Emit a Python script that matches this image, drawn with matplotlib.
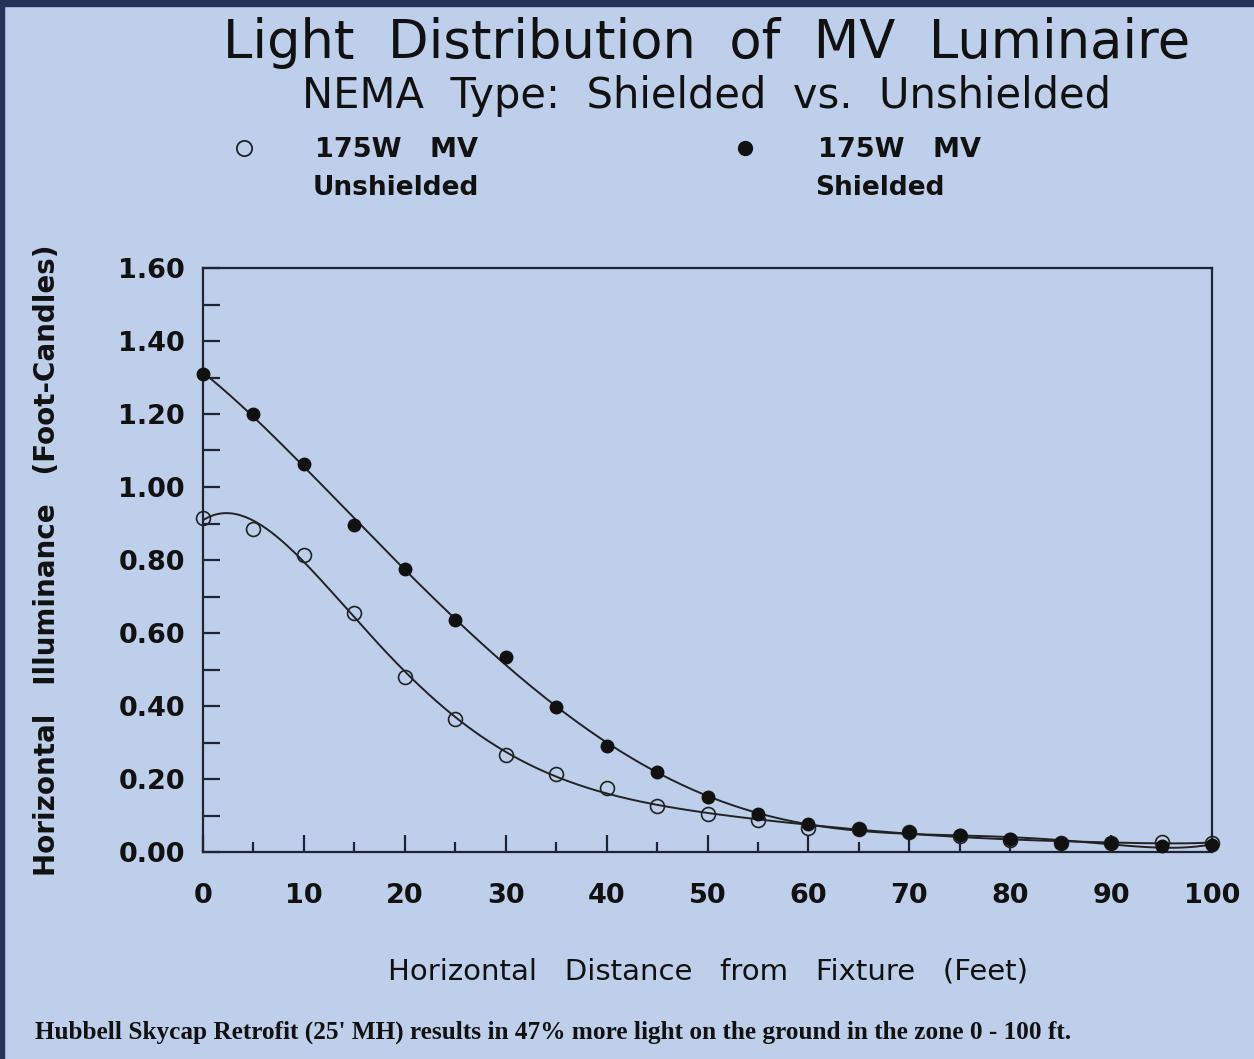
import numpy as np
import matplotlib
matplotlib.use("Agg")
import matplotlib.pyplot as plt
from matplotlib.ticker import MultipleLocator, FixedLocator
from matplotlib.patches import Rectangle

# ---- data ----
distance_ft = [0, 5, 10, 15, 20, 25, 30, 35, 40, 45, 50, 55, 60, 65, 70, 75, 80, 85, 90, 95, 100]
unshielded = [0.915, 0.885, 0.815, 0.655, 0.48, 0.365, 0.265, 0.215, 0.175, 0.125, 0.105, 0.088,
              0.066, 0.063, 0.055, 0.045, 0.034, 0.025, 0.025, 0.027, 0.025]
shielded = [1.31, 1.20, 1.062, 0.895, 0.775, 0.635, 0.535, 0.398, 0.29, 0.218, 0.15, 0.104,
            0.077, 0.063, 0.055, 0.046, 0.036, 0.025, 0.025, 0.016, 0.019]
x_ticks = [0, 10, 20, 30, 40, 50, 60, 70, 80, 90, 100]
y_ticks = [0.0, 0.2, 0.4, 0.6, 0.8, 1.0, 1.2, 1.4, 1.6]

BG = "#BDCFEB"
FONT = ["DejaVu Sans"]

fig = plt.figure(figsize=(12.54, 10.59), dpi=100, facecolor=BG)

# dark frame on top and left
fig.patches.append(Rectangle((0, 1 - 6 / 1059), 1, 6 / 1059, transform=fig.transFigure,
                             color="#22345A", zorder=0))
fig.patches.append(Rectangle((0, 0), 4 / 1254, 1, transform=fig.transFigure,
                             color="#22345A", zorder=0))

ax = fig.add_axes([203 / 1254, 1 - 852 / 1059, (1212 - 203) / 1254, (852 - 268) / 1059])
ax.set_facecolor(BG)
ax.set_xlim(0, 100)
ax.set_ylim(0, 1.6)

# fitted curves (least squares polynomial through the measured points)
xs = np.linspace(0, 100, 400)
x_arr = np.array(distance_ft, dtype=float)
for vals in (unshielded, shielded):
    coef = np.polyfit(x_arr / 100.0, np.array(vals), 7)
    ax.plot(xs, np.polyval(coef, xs / 100.0), color="#222222", lw=1.4, zorder=2)

ax.plot(distance_ft, unshielded, "o", ms=10, mfc="none", mec="#222222", mew=1.2,
        clip_on=False, zorder=3)
ax.plot(distance_ft, shielded, "o", ms=9, mfc="#111111", mec="#111111",
        clip_on=False, zorder=4)

for side in ["top", "right", "left", "bottom"]:
    ax.spines[side].set_color("#222233")
    ax.spines[side].set_linewidth(1.6)

ax.xaxis.set_major_locator(FixedLocator(x_ticks))
ax.xaxis.set_minor_locator(MultipleLocator(5))
ax.yaxis.set_major_locator(FixedLocator(y_ticks))
ax.yaxis.set_minor_locator(MultipleLocator(0.1))
ax.tick_params(axis="both", which="both", direction="in", top=False, right=False,
               color="#222233", width=1.6)
ax.tick_params(axis="x", which="major", length=12, pad=22)
ax.tick_params(axis="x", which="minor", length=7)
ax.tick_params(axis="y", which="major", length=12, pad=13)
ax.tick_params(axis="y", which="minor", length=12)
ax.set_xticklabels([str(v) for v in x_ticks], fontsize=19.5, fontweight="bold",
                   family=FONT, color="#111111")
ax.set_yticklabels([f"{v:.2f}" for v in y_ticks], fontsize=19.5, fontweight="bold",
                   family=FONT, color="#111111")

ax.set_xlabel("Horizontal   Distance   from   Fixture   (Feet)", fontsize=21, family=FONT,
              labelpad=35, color="#111111")
ax.set_ylabel("Horizontal   Illuminance   (Foot-Candles)", fontsize=20, fontweight="bold",
              family=FONT, labelpad=41, color="#111111")

# titles
fig.text(707 / 1254, 1 - 43 / 1059, "Light  Distribution  of  MV  Luminaire",
         fontsize=38, family=FONT, ha="center", va="center", color="#111111")
fig.text(707 / 1254, 1 - 96 / 1059, "NEMA  Type:  Shielded  vs.  Unshielded",
         fontsize=30, family=FONT, ha="center", va="center", color="#111111")

# legend
fig.lines.append(plt.Line2D([244 / 1254], [1 - 148 / 1059], transform=fig.transFigure,
                            marker="o", ms=11, mfc="none", mec="#222222", mew=1.3))
fig.lines.append(plt.Line2D([745 / 1254], [1 - 148 / 1059], transform=fig.transFigure,
                            marker="o", ms=10, mfc="#111111", mec="#111111"))
fig.text(315 / 1254, 1 - 150 / 1059, "175W   MV", fontsize=19.5, fontweight="bold",
         family=FONT, ha="left", va="center", color="#111111")
fig.text(313 / 1254, 1 - 188 / 1059, "Unshielded", fontsize=19, fontweight="bold",
         family=FONT, ha="left", va="center", color="#111111")
fig.text(818 / 1254, 1 - 150 / 1059, "175W   MV", fontsize=19.5, fontweight="bold",
         family=FONT, ha="left", va="center", color="#111111")
fig.text(815 / 1254, 1 - 188 / 1059, "Shielded", fontsize=19, fontweight="bold",
         family=FONT, ha="left", va="center", color="#111111")

# footnote
fig.text(35 / 1254, 1 - 1032 / 1059,
         "Hubbell Skycap Retrofit (25' MH) results in 47% more light on the ground in the zone 0 - 100 ft.",
         fontsize=18.2, fontweight="bold", family=["Liberation Serif", "DejaVu Serif"],
         ha="left", va="center", color="#111111")

fig.savefig("out.png", dpi=100, facecolor=BG)
